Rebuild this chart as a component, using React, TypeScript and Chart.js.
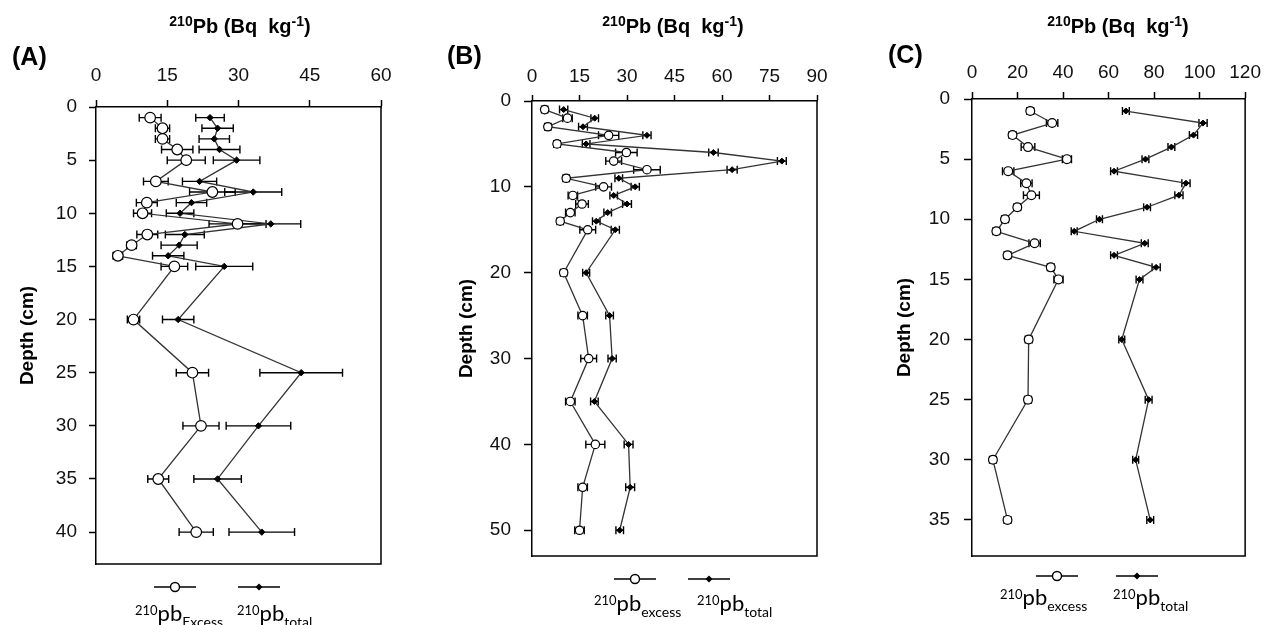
import React, { useEffect, useRef } from "react";
import { Chart, registerables } from "chart.js";

Chart.register(...registerables);

// ---------- Panel A ----------
const DEPTH_A = [1, 2, 3, 4, 5, 7, 8, 9, 10, 11, 12, 13, 14, 15, 20, 25, 30, 35, 40];
const EXCESS_A = [11.4, 14.0, 14.0, 17.1, 19.0, 12.6, 24.5, 10.7, 9.8, 29.8, 10.8, 7.5, 4.6, 16.5, 7.9, 20.3, 22.1, 13.1, 21.1];
const EXCESS_ERR_A = [2.3, 1.5, 1.5, 3.3, 4.0, 2.6, 4.8, 2.2, 1.9, 6.0, 2.2, 1.0, 1.0, 2.8, 1.3, 3.4, 3.8, 2.2, 3.6];
const TOTAL_A = [24.0, 25.6, 24.9, 26.0, 29.6, 21.8, 33.1, 20.1, 17.7, 36.8, 18.7, 17.5, 15.2, 27.0, 17.3, 43.2, 34.2, 25.6, 34.9];
const TOTAL_ERR_A = [3.0, 3.3, 3.2, 4.3, 4.9, 3.6, 6.0, 3.2, 2.9, 6.3, 4.1, 3.8, 3.3, 6.0, 3.3, 8.7, 6.8, 5.0, 6.9];
const X_TICKS_A = [0, 15, 30, 45, 60];
const Y_TICKS_A = [0, 5, 10, 15, 20, 25, 30, 35, 40];

// ---------- Panel B ----------
const DEPTH_B = [1, 2, 3, 4, 5, 6, 7, 8, 9, 10, 11, 12, 13, 14, 15, 20, 25, 30, 35, 40, 45, 50];
const EXCESS_B = [4.0, 11.2, 5.0, 24.2, 7.9, 29.8, 25.8, 36.3, 10.8, 22.6, 12.9, 15.8, 12.1, 8.9, 17.6, 10.0, 16.0, 17.9, 12.1, 20.0, 16.0, 15.0];
const EXCESS_ERR_B = [1.0, 1.5, 1.0, 3.2, 1.0, 3.4, 2.5, 4.2, 1.0, 2.5, 1.5, 2.0, 1.5, 1.0, 2.5, 1.0, 1.5, 2.5, 1.5, 3.0, 1.5, 1.5];
const TOTAL_B = [10.0, 19.8, 16.1, 36.3, 17.1, 57.3, 78.9, 63.2, 27.4, 32.6, 25.8, 30.0, 23.9, 20.3, 26.3, 17.1, 24.5, 25.3, 19.7, 30.5, 31.0, 27.7];
const TOTAL_ERR_B = [1.3, 1.2, 1.4, 1.3, 1.2, 1.5, 1.4, 1.6, 1.2, 1.3, 1.2, 1.4, 1.2, 1.2, 1.3, 1.1, 1.2, 1.3, 1.2, 1.4, 1.4, 1.2];
const X_TICKS_B = [0, 15, 30, 45, 60, 75, 90];
const Y_TICKS_B = [0, 10, 20, 30, 40, 50];

// ---------- Panel C ----------
const DEPTH_C = [1, 2, 3, 4, 5, 6, 7, 8, 9, 10, 11, 12, 13, 14, 15, 20, 25, 30, 35];
const EXCESS_C = [25.6, 35.2, 17.8, 24.6, 41.7, 15.9, 23.9, 26.1, 19.9, 14.5, 10.7, 27.5, 15.6, 34.6, 38.0, 24.9, 24.6, 9.2, 15.6];
const EXCESS_ERR_C = [1.5, 2.5, 1.5, 3.0, 2.0, 2.5, 2.5, 3.5, 1.5, 1.5, 1.5, 2.5, 1.5, 1.5, 2.0, 1.5, 1.5, 1.5, 1.5];
const TOTAL_C = [67.6, 101.5, 97.3, 87.6, 76.2, 62.4, 94.0, 90.9, 76.9, 56.0, 44.9, 75.9, 62.4, 80.9, 73.6, 65.8, 77.6, 71.9, 78.3];
const TOTAL_ERR_C = [1.5, 1.8, 1.8, 1.5, 1.5, 1.5, 1.8, 1.8, 1.5, 1.3, 1.3, 1.5, 1.5, 1.8, 1.5, 1.3, 1.5, 1.3, 1.5];
const X_TICKS_C = [0, 20, 40, 60, 80, 100, 120];
const Y_TICKS_C = [0, 5, 10, 15, 20, 25, 30, 35];

const AXIS_FONT = "'Liberation Sans', Arial, sans-serif";
const LEGEND_FONT = "Lato, 'Open Sans', sans-serif";

type Panel = {
  letter: string;
  L: number;
  W: number;
  plot: { l: number; r: number; t: number; b: number };
  xMax: number;
  yMax: number;
  xTicks: number[];
  yTicks: number[];
  depth: number[];
  excess: number[];
  excessErr: number[];
  total: number[];
  totalErr: number[];
  xPad: number;
  xLen: number;
  yPad: number;
  yLen: number;
  rExcess: number;
  rTotal: number;
  letterPos: [number, number];
  titleX: number;
  depthX: number;
  legY: number;
  legExX: number;
  legToX: number;
  legTextY: number;
  legExTextX: number;
  legToTextX: number;
  excessWord: string;
};

const PANELS: Panel[] = [
  {
    letter: "(A)", L: 0, W: 420, plot: { l: 96, r: 381, t: 107, b: 564 },
    xMax: 60, yMax: 43, xTicks: X_TICKS_A, yTicks: Y_TICKS_A,
    depth: DEPTH_A, excess: EXCESS_A, excessErr: EXCESS_ERR_A, total: TOTAL_A, totalErr: TOTAL_ERR_A,
    xPad: 13, xLen: 7, yPad: 12, yLen: 7, rExcess: 5.3, rTotal: 3.2,
    letterPos: [12, 65], titleX: 240, depthX: 28,
    legY: 587, legExX: 175, legToX: 259, legTextY: 621, legExTextX: 135, legToTextX: 237, excessWord: "Excess",
  },
  {
    letter: "(B)", L: 420, W: 430, plot: { l: 532, r: 817, t: 101, b: 556 },
    xMax: 90, yMax: 53, xTicks: X_TICKS_B, yTicks: Y_TICKS_B,
    depth: DEPTH_B, excess: EXCESS_B, excessErr: EXCESS_ERR_B, total: TOTAL_B, totalErr: TOTAL_ERR_B,
    xPad: 7, xLen: 6, yPad: 13, yLen: 8, rExcess: 4.2, rTotal: 3,
    letterPos: [447, 64], titleX: 673, depthX: 467,
    legY: 579, legExX: 635, legToX: 709, legTextY: 611, legExTextX: 594, legToTextX: 697, excessWord: "excess",
  },
  {
    letter: "(C)", L: 850, W: 419, plot: { l: 972, r: 1252, t: 99, b: 556 },
    xMax: 120, yMax: 38, xTicks: X_TICKS_C, yTicks: Y_TICKS_C,
    depth: DEPTH_C, excess: EXCESS_C, excessErr: EXCESS_ERR_C, total: TOTAL_C, totalErr: TOTAL_ERR_C,
    xPad: 8, xLen: 7, yPad: 14, yLen: 8, rExcess: 4.4, rTotal: 3,
    letterPos: [888, 63], titleX: 1118, depthX: 905,
    legY: 576, legExX: 1057, legToX: 1137, legTextY: 605, legExTextX: 1000, legToTextX: 1113, excessWord: "excess",
  },
];

type Seg = { t: string; size: number; bold?: boolean; dy?: number; family: string };

function segFont(s: Seg) {
  return `${s.bold ? "bold " : ""}${s.size}px ${s.family}`;
}

function drawSegs(ctx: CanvasRenderingContext2D, segs: Seg[], x: number, y: number, align: "left" | "center") {
  let total = 0;
  for (const s of segs) {
    ctx.font = segFont(s);
    total += ctx.measureText(s.t).width;
  }
  let cx = align === "center" ? x - total / 2 : x;
  ctx.textAlign = "left";
  ctx.textBaseline = "alphabetic";
  for (const s of segs) {
    ctx.font = segFont(s);
    ctx.fillText(s.t, cx, y + (s.dy || 0));
    cx += ctx.measureText(s.t).width;
  }
}

function PanelChart({ p }: { p: Panel }) {
  const ref = useRef<HTMLCanvasElement | null>(null);

  useEffect(() => {
    if (!ref.current) return;
    const off = p.L;

    const errorBars = {
      id: "errorBars",
      beforeDatasetsDraw(chart: any) {
        const ctx = chart.ctx as CanvasRenderingContext2D;
        const xs = chart.scales.x;
        const ys = chart.scales.y;
        ctx.save();
        ctx.strokeStyle = "#000";
        ctx.lineWidth = 1.4;
        const sets: [number[], number[]][] = [
          [p.excess, p.excessErr],
          [p.total, p.totalErr],
        ];
        for (const [vals, errs] of sets) {
          vals.forEach((v, i) => {
            const y = ys.getPixelForValue(p.depth[i]);
            const x1 = xs.getPixelForValue(v - errs[i]);
            const x2 = xs.getPixelForValue(v + errs[i]);
            ctx.beginPath();
            ctx.moveTo(x1, y);
            ctx.lineTo(x2, y);
            ctx.moveTo(x1, y - 4);
            ctx.lineTo(x1, y + 4);
            ctx.moveTo(x2, y - 4);
            ctx.lineTo(x2, y + 4);
            ctx.stroke();
          });
        }
        ctx.restore();
      },
    };

    const decor = {
      id: "decor",
      afterDraw(chart: any) {
        const ctx = chart.ctx as CanvasRenderingContext2D;
        const a = chart.chartArea;
        ctx.save();
        ctx.strokeStyle = "#000";
        ctx.lineWidth = 1.5;
        ctx.beginPath();
        ctx.moveTo(a.right, a.top);
        ctx.lineTo(a.right, a.bottom);
        ctx.lineTo(a.left, a.bottom);
        ctx.stroke();

        ctx.fillStyle = "#000";
        ctx.font = `bold 25px ${AXIS_FONT}`;
        ctx.textAlign = "left";
        ctx.textBaseline = "alphabetic";
        ctx.fillText(p.letter, p.letterPos[0] - off, p.letterPos[1]);

        drawSegs(
          ctx,
          [
            { t: "210", size: 14, bold: true, dy: -7, family: AXIS_FONT },
            { t: "Pb (Bq  kg", size: 20, bold: true, family: AXIS_FONT },
            { t: "-1", size: 14, bold: true, dy: -7, family: AXIS_FONT },
            { t: ")", size: 20, bold: true, family: AXIS_FONT },
          ],
          p.titleX - off,
          33,
          "center"
        );

        ctx.save();
        ctx.translate(p.depthX - off, (a.top + a.bottom) / 2);
        ctx.rotate(-Math.PI / 2);
        ctx.font = `bold 19px ${AXIS_FONT}`;
        ctx.textAlign = "center";
        ctx.textBaseline = "middle";
        ctx.fillText("Depth (cm)", 0, 0);
        ctx.restore();

        const drawLegMarker = (cx: number, filled: boolean) => {
          ctx.strokeStyle = "#000";
          ctx.lineWidth = 1.4;
          ctx.beginPath();
          ctx.moveTo(cx - 21, p.legY);
          ctx.lineTo(cx + 21, p.legY);
          ctx.stroke();
          if (filled) {
            ctx.fillStyle = "#000";
            ctx.beginPath();
            ctx.moveTo(cx, p.legY - 3.5);
            ctx.lineTo(cx + 3.5, p.legY);
            ctx.lineTo(cx, p.legY + 3.5);
            ctx.lineTo(cx - 3.5, p.legY);
            ctx.closePath();
            ctx.fill();
          } else {
            ctx.fillStyle = "#fff";
            ctx.beginPath();
            ctx.arc(cx, p.legY, 4.5, 0, Math.PI * 2);
            ctx.fill();
            ctx.stroke();
          }
        };
        drawLegMarker(p.legExX - off, false);
        drawLegMarker(p.legToX - off, true);
        ctx.fillStyle = "#000";
        drawSegs(
          ctx,
          [
            { t: "210", size: 13, dy: -6, family: LEGEND_FONT },
            { t: "pb", size: 22, family: LEGEND_FONT },
            { t: p.excessWord, size: 14, dy: 6, family: LEGEND_FONT },
          ],
          p.legExTextX - off,
          p.legTextY,
          "left"
        );
        drawSegs(
          ctx,
          [
            { t: "210", size: 13, dy: -6, family: LEGEND_FONT },
            { t: "pb", size: 22, family: LEGEND_FONT },
            { t: "total", size: 14, dy: 6, family: LEGEND_FONT },
          ],
          p.legToTextX - off,
          p.legTextY,
          "left"
        );
        ctx.restore();
      },
    };

    const chart = new Chart(ref.current, {
      type: "scatter",
      data: {
        datasets: [
          {
            data: p.depth.map((d, i) => ({ x: p.excess[i], y: d })),
            showLine: true,
            borderColor: "#333",
            borderWidth: 1.3,
            pointRadius: p.rExcess,
            pointStyle: "circle",
            pointBackgroundColor: "#fff",
            pointBorderColor: "#000",
            pointBorderWidth: 1.2,
            clip: false as any,
          },
          {
            data: p.depth.map((d, i) => ({ x: p.total[i], y: d })),
            showLine: true,
            borderColor: "#333",
            borderWidth: 1.3,
            pointRadius: p.rTotal,
            pointStyle: "rectRot",
            pointBackgroundColor: "#000",
            pointBorderColor: "#000",
            pointBorderWidth: 1,
            clip: false as any,
          },
        ],
      },
      options: {
        animation: false,
        responsive: false,
        maintainAspectRatio: false,
        events: [],
        layout: {
          padding: { left: 0, top: 0, right: p.L + p.W - p.plot.r, bottom: 625 - p.plot.b },
        },
        plugins: { legend: { display: false }, tooltip: { enabled: false } },
        scales: {
          x: {
            type: "linear",
            position: "top",
            min: 0,
            max: p.xMax,
            afterBuildTicks: (s: any) => {
              s.ticks = p.xTicks.map((v) => ({ value: v }));
            },
            afterFit: (s: any) => {
              s.height = p.plot.t;
            },
            grid: { drawOnChartArea: false, drawTicks: true, tickLength: p.xLen, tickWidth: 1.5, tickColor: "#000" },
            border: { display: true, color: "#000", width: 1.5 },
            ticks: { font: { family: AXIS_FONT, size: 19 }, color: "#111", padding: p.xPad, maxRotation: 0, autoSkip: false },
          },
          y: {
            type: "linear",
            position: "left",
            reverse: true,
            min: 0,
            max: p.yMax,
            afterBuildTicks: (s: any) => {
              s.ticks = p.yTicks.map((v) => ({ value: v }));
            },
            afterFit: (s: any) => {
              s.width = p.plot.l - p.L;
            },
            grid: { drawOnChartArea: false, drawTicks: true, tickLength: p.yLen, tickWidth: 1.5, tickColor: "#000" },
            border: { display: true, color: "#000", width: 1.5 },
            ticks: { font: { family: AXIS_FONT, size: 19 }, color: "#111", padding: p.yPad, autoSkip: false },
          },
        },
      },
      plugins: [errorBars, decor],
    } as any);

    return () => chart.destroy();
  }, [p]);

  return (
    <canvas
      ref={ref}
      width={p.W}
      height={625}
      style={{ position: "absolute", left: p.L, top: 0, width: p.W, height: 625 }}
    />
  );
}

export default function App() {
  return (
    <div
      style={{
        position: "fixed",
        left: 0,
        top: 0,
        width: 1269,
        height: 625,
        background: "#fff",
        overflow: "hidden",
      }}
    >
      {PANELS.map((p) => (
        <PanelChart key={p.letter} p={p} />
      ))}
    </div>
  );
}
